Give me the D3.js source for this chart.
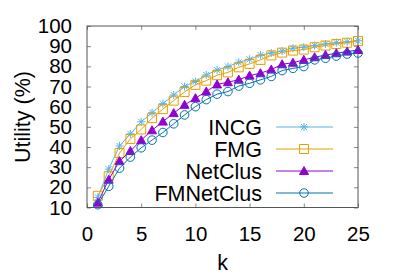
<!DOCTYPE html>
<html>
<head>
<meta charset="utf-8">
<script src="https://cdn.jsdelivr.net/npm/d3@7"></script>
<style>
    body { margin: 0; padding: 0; background: white; }
    svg text { font-family: 'Liberation Sans', Arial, sans-serif; fill: black; }
</style>
</head>
<body>
<script>

var kValues = [1, 2, 3, 4, 5, 6, 7, 8, 9, 10, 11, 12, 13, 14, 15, 16, 17, 18, 19, 20, 21, 22, 23, 24, 25]

var incg = [15, 29, 40.5, 46.5, 52.5, 57, 61.5, 65.8, 70, 72.5, 75.7, 78.2, 79.9, 82, 83.5, 85.6, 86.6, 87.6, 89, 89.5, 90.3, 91.1, 91.7, 92.2, 92.7]
var fmg = [15.8, 25.5, 37, 44, 48.7, 54.3, 58.8, 63, 67.3, 70.8, 72.9, 75.6, 77, 79.5, 81.2, 83.2, 85.4, 86.8, 87.8, 88.3, 89.5, 90.3, 91.1, 91.7, 92.6]
var netclus = [12.4, 23.8, 33, 38, 43.4, 48.3, 52.6, 56.8, 60.9, 64.2, 67.5, 71, 72.1, 73.4, 75.4, 76.6, 78.4, 81, 81.8, 83.2, 84.5, 85.6, 86.5, 87.3, 88.1]
var fmnetclus = [11.4, 20.5, 29.5, 35, 39.6, 43.4, 47.2, 51.5, 55.9, 60, 63.5, 66.2, 67.5, 70.2, 71.6, 73.3, 75, 77.9, 79, 79.9, 83.2, 84, 85.1, 86.1, 86.6]

var seriesNames = ['INCG', 'FMG', 'NetClus', 'FMNetClus']
var seriesColors = ['#56b4e9', '#e69f00', '#9400d3', '#0072b2']
var seriesMarkers = ['star', 'square', 'triangle', 'circle']

var xTicks = [0, 5, 10, 15, 20, 25]
var yTicks = [10, 20, 30, 40, 50, 60, 70, 80, 90, 100]

function drawLineChart(chartAreaWidth, chartAreaHeight) {

    var left = 87
    var right = 358
    var top = 26
    var bottom = 207.5

    var svg = d3.select('body')
                    .append('svg')
                        .attr('width', chartAreaWidth)
                        .attr('height', chartAreaHeight)

    var xscale = d3.scaleLinear()
                    .domain([0, 25])
                    .range([left, right])

    var yscale = d3.scaleLinear()
                    .domain([10, 100])
                    .range([bottom, top])

    // axes with inward ticks, gnuplot style
    var x_axis = d3.axisBottom(xscale).tickValues(xTicks).tickSize(-4).tickPadding(19)
    var y_axis = d3.axisLeft(yscale).tickValues(yTicks).tickSize(-4).tickPadding(15)
    var x_top = d3.axisTop(xscale).tickValues(xTicks).tickSize(-4).tickFormat('')
    var y_right = d3.axisRight(yscale).tickValues(yTicks).tickSize(-4).tickFormat('')

    var gx = svg.append('g').attr('transform', 'translate(0,' + bottom + ')').call(x_axis)
    var gy = svg.append('g').attr('transform', 'translate(' + left + ',0)').call(y_axis)
    var gxt = svg.append('g').attr('transform', 'translate(0,' + top + ')').call(x_top)
    var gyr = svg.append('g').attr('transform', 'translate(' + right + ',0)').call(y_right)

    ;[gx, gy, gxt, gyr].forEach(function(g) {
        g.select('.domain').remove()
        g.selectAll('.tick line').attr('stroke', '#888').attr('stroke-width', 1)
        g.selectAll('.tick text')
            .style('font-family', "'Liberation Sans', Arial, sans-serif")
            .style('font-size', '20.5px')
            .attr('fill', 'black')
    })

    svg.append('rect')
            .attr('x', left)
            .attr('y', top)
            .attr('width', right - left)
            .attr('height', bottom - top)
            .attr('fill', 'none')
            .attr('stroke', '#555')
            .attr('stroke-width', 1)

    var allSeries = [incg, fmg, netclus, fmnetclus]

    function markerPath(type) {
        if (type == 'star') return 'M-4,0H4M0,-4V4M-3,-3L3,3M-3,3L3,-3'
        if (type == 'square') return 'M-4.5,-4.5H4.5V4.5H-4.5Z'
        if (type == 'triangle') return 'M0,-4.5L4.5,3.5H-4.5Z'
        return d3.arc()({ innerRadius: 0, outerRadius: 4.3, startAngle: 0, endAngle: 2 * Math.PI })
    }

    function drawMarker(g, type, color) {
        g.append('path')
                .attr('d', markerPath(type))
                .attr('fill', type == 'triangle' ? color : 'none')
                .attr('stroke', color)
                .attr('stroke-width', 1)
    }

    var line = d3.line()
                    .x(function(d, i) { return xscale(kValues[i]) })
                    .y(function(d) { return yscale(d) })

    allSeries.forEach(function(values, s) {
        svg.append('path')
                .attr('d', line(values))
                .attr('fill', 'none')
                .attr('stroke', seriesColors[s])
                .attr('stroke-width', 1)

        values.forEach(function(v, i) {
            var g = svg.append('g')
                        .attr('transform', 'translate(' + xscale(kValues[i]) + ',' + yscale(v) + ')')
            drawMarker(g, seriesMarkers[s], seriesColors[s])
        })
    })

    // legend
    var legend = svg.append('g')
    seriesNames.forEach(function(name, s) {
        var y = 127 + s * 22
        legend.append('text')
                .text(name)
                .attr('x', 262)
                .attr('y', y + 7.5)
                .attr('text-anchor', 'end')
                .style('font-size', '21.5px')
        legend.append('line')
                .attr('x1', 276)
                .attr('x2', 333)
                .attr('y1', y)
                .attr('y2', y)
                .attr('stroke', seriesColors[s])
                .attr('stroke-width', 1)
        var g = legend.append('g').attr('transform', 'translate(304,' + y + ')')
        drawMarker(g, seriesMarkers[s], seriesColors[s])
    })

    svg.append('text')
            .text('k')
            .attr('x', (left + right) / 2)
            .attr('y', 270)
            .attr('text-anchor', 'middle')
            .style('font-size', '21.5px')

    svg.append('text')
            .text('Utility (%)')
            .attr('transform', 'translate(30,117) rotate(-90)')
            .attr('text-anchor', 'middle')
            .style('font-size', '21.5px')
}

drawLineChart(399, 279)

</script>
</body>
</html>
